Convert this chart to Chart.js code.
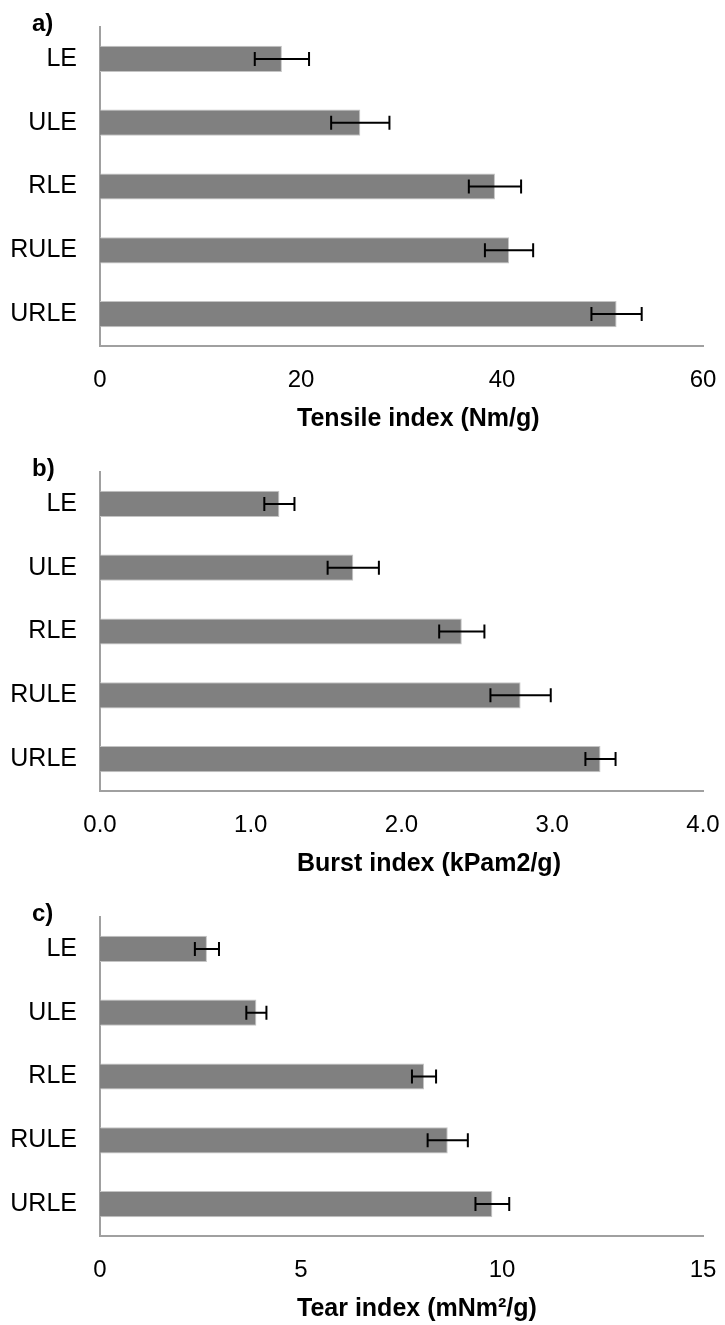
<!DOCTYPE html>
<html><head><meta charset="utf-8">
<script src="https://cdn.jsdelivr.net/npm/chart.js@4.4.1/dist/chart.umd.min.js"></script>
<style>
html,body{margin:0;padding:0;background:#fff;}
canvas{display:block;}
</style></head><body>
<canvas id="ca" width="725" height="445"></canvas>
<canvas id="cb" width="725" height="445"></canvas>
<canvas id="cc" width="725" height="435"></canvas>
<script>
const categories = ['LE', 'ULE', 'RLE', 'RULE', 'URLE'];
const tensileValues = [18.1, 25.9, 39.3, 40.7, 51.4];
const tensileErrors = [2.7, 2.9, 2.6, 2.4, 2.5];
const burstValues = [1.19, 1.68, 2.40, 2.79, 3.32];
const burstErrors = [0.10, 0.17, 0.15, 0.20, 0.10];
const tearValues = [2.66, 3.89, 8.06, 8.65, 9.76];
const tearErrors = [0.30, 0.25, 0.30, 0.50, 0.42];
const panelLabels = ['a)', 'b)', 'c)'];
const axisTitles = ['Tensile index (Nm/g)', 'Burst index (kPam2/g)', 'Tear index (mNm²/g)'];
const xMaxima = [60, 4, 15];
const xSteps = [20, 1, 5];
const xDecimals = [0, 1, 0];

const FONT = '"Liberation Sans", Arial, Helvetica, sans-serif';
Chart.defaults.font.family = FONT;
Chart.defaults.color = '#000';

const errorBarPlugin = {
  id: 'errorBars',
  afterDatasetsDraw(chart, args, opts) {
    const {ctx, scales: {x, y}} = chart;
    const vals = chart.data.datasets[0].data;
    const errs = opts.errors;
    ctx.save();
    ctx.strokeStyle = '#000';
    ctx.lineWidth = 2;
    vals.forEach((v, i) => {
      const yc = y.getPixelForValue(i);
      const x1 = x.getPixelForValue(v - errs[i]);
      const x2 = x.getPixelForValue(v + errs[i]);
      ctx.beginPath();
      ctx.moveTo(x1, yc); ctx.lineTo(x2, yc);
      ctx.moveTo(x1, yc - 7); ctx.lineTo(x1, yc + 7);
      ctx.moveTo(x2, yc - 7); ctx.lineTo(x2, yc + 7);
      ctx.stroke();
    });
    ctx.restore();
  }
};

const panelTextPlugin = {
  id: 'panelText',
  afterDraw(chart, args, opts) {
    const {ctx, chartArea} = chart;
    ctx.save();
    ctx.fillStyle = '#000';
    ctx.font = 'bold 24px ' + FONT;
    ctx.textAlign = 'left';
    ctx.textBaseline = 'alphabetic';
    ctx.fillText(opts.label, 32, chartArea.top + 4);
    ctx.font = 'bold 25px ' + FONT;
    ctx.textBaseline = 'middle';
    ctx.fillText(opts.title, 297, chartArea.bottom + 73);
    ctx.restore();
  }
};

function makeChart(id, values, errors, idx) {
  const canvas = document.getElementById(id);
  const h = canvas.height;
  return new Chart(canvas, {
    type: 'bar',
    data: {
      labels: categories,
      datasets: [{
        data: values,
        backgroundColor: '#808080',
        borderColor: '#c4c4c4',
        borderWidth: 1,
        barPercentage: 0.41,
        categoryPercentage: 1.0
      }]
    },
    options: {
      indexAxis: 'y',
      responsive: false,
      animation: false,
      layout: {padding: {top: 27, right: 22, left: 0, bottom: 0}},
      plugins: {
        legend: {display: false},
        tooltip: {enabled: false},
        errorBars: {errors: errors},
        panelText: {label: panelLabels[idx], title: axisTitles[idx]}
      },
      scales: {
        x: {
          min: 0,
          max: xMaxima[idx],
          grid: {display: false, drawTicks: false},
          border: {display: true, color: '#a0a0a0', width: 2},
          ticks: {
            stepSize: xSteps[idx],
            color: '#000',
            font: {size: 24},
            padding: 20,
            maxRotation: 0,
            callback: (v) => Number(v).toFixed(xDecimals[idx])
          },
          afterFit(scale) {
            scale.height = h - 346;
            scale.paddingLeft = 0;
            scale.paddingRight = 0;
          }
        },
        y: {
          grid: {display: false, drawTicks: false},
          border: {display: true, color: '#a0a0a0', width: 2},
          ticks: {color: '#000', font: {size: 25}, padding: 23},
          afterFit(scale) {
            scale.width = 100;
            scale.paddingTop = 0;
            scale.paddingBottom = 0;
          }
        }
      }
    },
    plugins: [errorBarPlugin, panelTextPlugin]
  });
}

makeChart('ca', tensileValues, tensileErrors, 0);
makeChart('cb', burstValues, burstErrors, 1);
makeChart('cc', tearValues, tearErrors, 2);
</script>
</body></html>
